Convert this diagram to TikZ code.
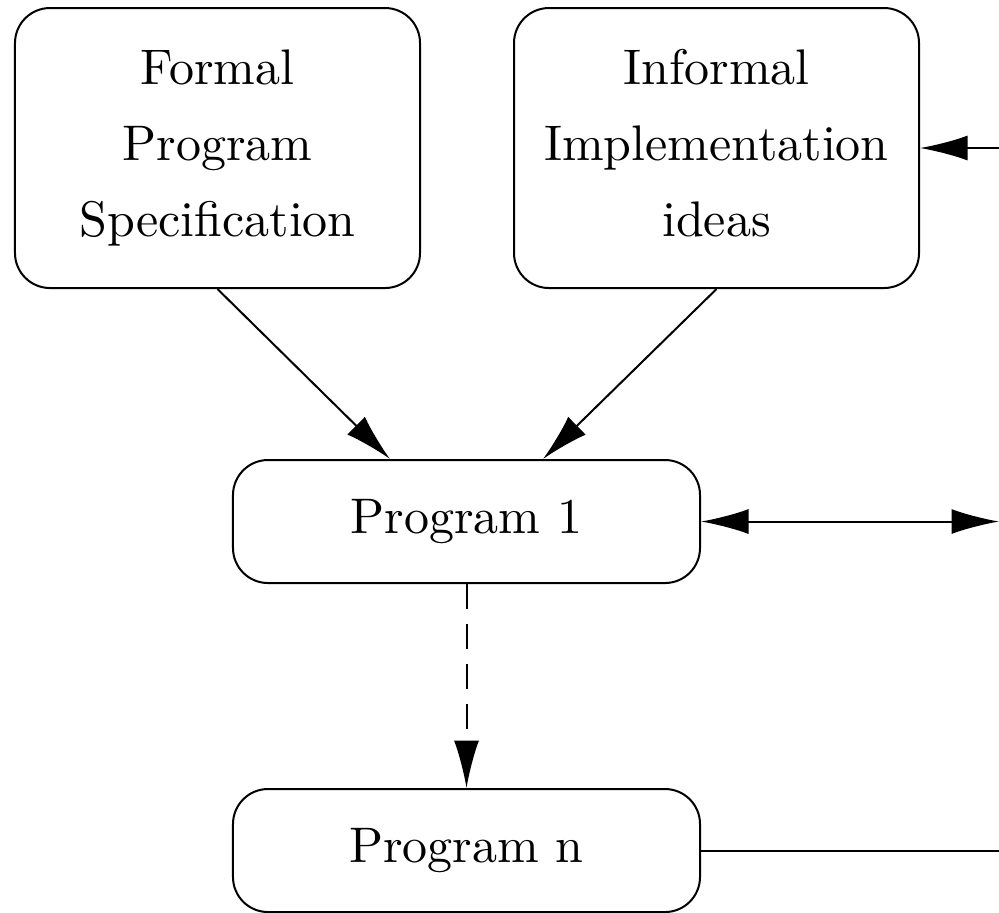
\documentclass[tikz,border=0pt]{standalone}
\usepackage{tikz}
\usetikzlibrary{arrows.meta,positioning}

\begin{document}
\begin{tikzpicture}[x=0.2pt,y=-0.2pt,>={Latex[length=9.5pt,width=5pt]},auto]
    \tikzstyle{idea-box}=[rectangle,rounded corners=7pt,draw=black,
    minimum width=81pt,minimum height=56pt,align=center,inner sep=0pt]
    \tikzstyle{prog-box}=[rectangle,rounded corners=7pt,draw=black,
    minimum width=93.4pt,minimum height=24.6pt,inner sep=0pt]

    \useasboundingbox (0,0) rectangle (999,912);

    \node [idea-box] (formal) at (217.5,148) {\strut Formal\\[3.2pt]\strut Program\\[3.2pt]\strut Specification};
    \node [idea-box] (informal) [right=18.4pt of formal] {\strut Informal\\[3.2pt]\strut Implementation\\[3.2pt]\strut ideas};
    \node [prog-box] (p1) at (466.5,521.5) {Program 1};
    \node [prog-box] (pn) [below=40.8pt of p1] {Program n};

    % loose ends at the right border
    \coordinate (r1) at (informal.east -| 999,0);
    \coordinate (r2) at (p1.east -| 999,0);
    \coordinate (r3) at (pn.east -| 999,0);

    \path (formal.south) edge [->] ([xshift=-15.3pt]p1.north);
    \path (informal.south) edge [->] ([xshift=15.3pt]p1.north);
    \path (p1) edge [->,dash pattern=on 5pt off 3pt] (pn);
    \path (r1) edge [->] (informal);
    \path (p1) edge [<->] (r2);
    \path (pn) edge (r3);

\end{tikzpicture}
\end{document}
